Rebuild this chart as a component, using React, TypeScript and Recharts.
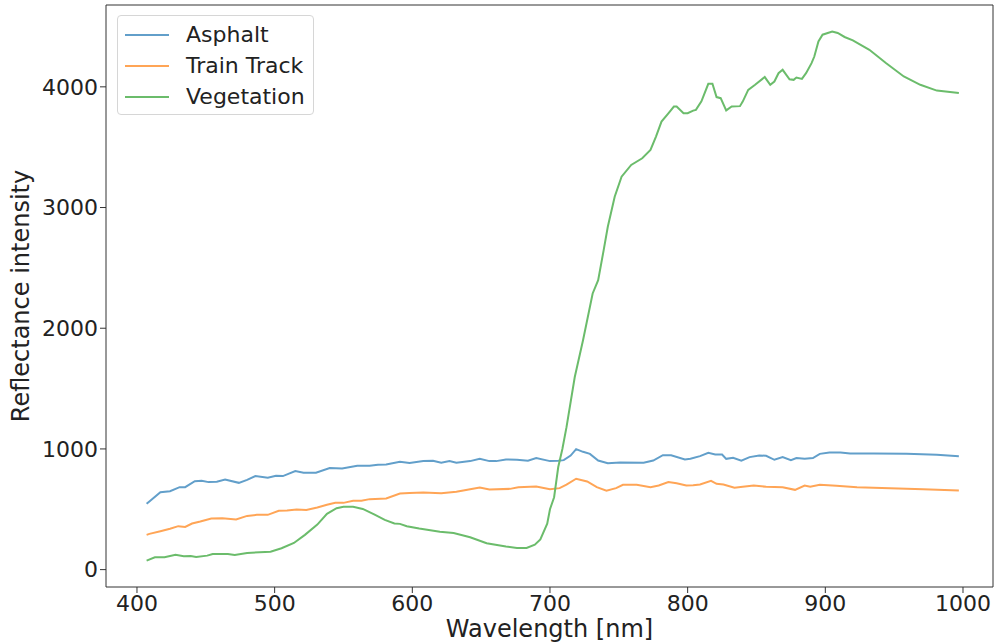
import React from 'react';
import { LineChart, Line, XAxis, YAxis, ReferenceLine } from 'recharts';

// [wavelength nm, reflectance]
const asphalt: [number, number][] = [
  [407, 545], [409, 564], [417, 642], [424, 650], [431, 683], [435, 683], [442, 733], [447, 736],
  [452, 725], [458, 728], [464, 747], [474, 719], [480, 744], [486, 775], [495, 761], [501, 777],
  [506, 775], [515, 816], [521, 802], [530, 802], [540, 841], [549, 838], [560, 860], [569, 860],
  [575, 869], [581, 871], [591, 893], [598, 884], [608, 899], [615, 902], [621, 885], [627, 899],
  [632, 885], [642, 899], [649, 918], [656, 899], [661, 899], [668, 913], [676, 910], [684, 902],
  [690, 924], [700, 899], [706, 902], [710, 907], [715, 945], [719, 998], [724, 976], [729, 959],
  [735, 904], [742, 882], [751, 888], [768, 885], [775, 904], [782, 948], [788, 948], [798, 913],
  [802, 918], [809, 940], [815, 968], [820, 954], [825, 954], [828, 918], [833, 926], [839, 902],
  [845, 932], [852, 946], [857, 943], [863, 910], [869, 932], [875, 907], [879, 924], [885, 918],
  [891, 924], [896, 959], [903, 970], [911, 970], [918, 962], [935, 962], [959, 959], [981, 951],
  [997, 940],
];

const trainTrack: [number, number][] = [
  [407, 288], [409, 296], [417, 318], [424, 338], [430, 360], [435, 354], [440, 382], [446, 398],
  [454, 423], [462, 426], [472, 415], [480, 445], [487, 454], [495, 454], [503, 487], [509, 490],
  [516, 498], [523, 495], [531, 515], [538, 537], [544, 553], [550, 553], [557, 570], [563, 570],
  [569, 584], [581, 589], [591, 631], [598, 634], [608, 639], [621, 633], [632, 645], [642, 666],
  [649, 680], [656, 664], [671, 669], [677, 683], [690, 689], [700, 666], [707, 675], [712, 705],
  [719, 753], [727, 730], [734, 683], [741, 653], [748, 675], [753, 703], [763, 703], [773, 683],
  [779, 697], [786, 725], [792, 716], [799, 697], [804, 700], [809, 705], [817, 736], [821, 711],
  [826, 705], [834, 678], [840, 686], [848, 697], [857, 686], [869, 683], [878, 661], [885, 697],
  [889, 686], [896, 703], [908, 694], [923, 683], [947, 675], [971, 666], [997, 655],
];

const vegetation: [number, number][] = [
  [407, 75], [413, 102], [420, 102], [428, 124], [434, 110], [439, 113], [443, 105], [451, 116],
  [455, 130], [466, 130], [471, 122], [480, 138], [497, 149], [505, 177], [514, 221], [522, 288],
  [531, 373], [538, 462], [545, 509], [550, 520], [557, 520], [564, 503], [573, 454], [580, 412],
  [587, 382], [591, 379], [596, 360], [605, 340], [620, 313], [630, 304], [642, 268], [654, 218],
  [668, 191], [676, 180], [683, 180], [689, 207], [693, 250], [698, 380], [700, 500], [703, 600],
  [706, 850], [709, 1000], [712, 1180], [718, 1596], [724, 1900], [731, 2288], [735, 2398],
  [739, 2647], [742, 2841], [747, 3090], [752, 3256], [759, 3353], [767, 3408], [773, 3477],
  [777, 3588], [781, 3712], [786, 3781], [790, 3837], [792, 3837], [797, 3781], [800, 3781],
  [804, 3803], [806, 3809], [810, 3880], [815, 4025], [818, 4025], [821, 3915], [824, 3906],
  [828, 3805], [832, 3837], [838, 3840], [840, 3878], [844, 3975], [849, 4017], [856, 4081],
  [860, 4017], [863, 4044], [866, 4113], [869, 4141], [874, 4063], [877, 4058], [879, 4077],
  [883, 4066], [886, 4113], [890, 4196], [892, 4251], [895, 4376], [898, 4432], [905, 4459],
  [909, 4446], [914, 4413], [920, 4385], [932, 4307], [944, 4197], [957, 4086], [969, 4017],
  [981, 3969], [997, 3948],
];

const xTicks = [400, 500, 600, 700, 800, 900, 1000];
const yTicks = [0, 1000, 2000, 3000, 4000];
const xDomain: [number, number] = [377.5, 1021.8];
const yDomain: [number, number] = [-144, 4678];

const series = [
  { name: 'Asphalt', color: '#629fca', points: asphalt },
  { name: 'Train Track', color: '#ffa556', points: trainTrack },
  { name: 'Vegetation', color: '#6bbc6b', points: vegetation },
];

const FONT = '"DejaVu Sans", sans-serif';
const AXIS = '#333';
const INK = '#222';

const toRows = (pts: [number, number][]) => pts.map(([nm, v]) => ({ nm, v }));

// matplotlib-style legend box, overlaid in the upper-left of the axes
const MplLegend = () => (
  <div
    style={{
      position: 'absolute',
      left: 117,
      top: 15,
      width: 197,
      height: 100,
      boxSizing: 'border-box',
      border: '1px solid #d6d6d6',
      borderRadius: 4,
      background: 'rgba(255,255,255,0.8)',
      padding: '3px 0 0 7px',
      fontFamily: FONT,
      fontSize: 22,
      color: INK,
    }}
  >
    {series.map((s) => (
      <div key={s.name} style={{ display: 'flex', alignItems: 'center', height: 31 }}>
        <span style={{ width: 44, height: 2, background: s.color, marginRight: 17 }} />
        <span style={{ whiteSpace: 'nowrap' }}>{s.name}</span>
      </div>
    ))}
  </div>
);

const YTitle = (props: any) => {
  const vb = props.viewBox || {};
  const cx = vb.x + 21;
  const cy = vb.y + vb.height / 2;
  return (
    <text
      x={cx}
      y={cy}
      transform={`rotate(-90 ${cx} ${cy})`}
      textAnchor="middle"
      dominantBaseline="central"
      fontFamily={FONT}
      fontSize={24}
      fill={INK}
    >
      Reflectance intensity
    </text>
  );
};

export default function App() {
  return (
    <div style={{ position: 'absolute', left: 0, top: 0, width: 995, height: 644, background: '#fff' }}>
      <LineChart width={995} height={644} margin={{ top: 5, right: 2, left: 0, bottom: 0 }}>
        <XAxis
          type="number"
          dataKey="nm"
          domain={xDomain}
          allowDataOverflow
          ticks={xTicks}
          height={57}
          stroke={AXIS}
          tickSize={6}
          tick={{ fill: INK, fontSize: 22, fontFamily: FONT }}
          label={{
            value: 'Wavelength [nm]',
            position: 'insideBottom',
            offset: 7,
            fill: INK,
            fontSize: 24,
            fontFamily: FONT,
          }}
        />
        <YAxis
          type="number"
          domain={yDomain}
          allowDataOverflow
          ticks={yTicks}
          width={106}
          stroke={AXIS}
          tickSize={6}
          tick={{ fill: INK, fontSize: 22, fontFamily: FONT }}
          label={{ content: <YTitle /> }}
        />
        <ReferenceLine y={yDomain[1]} stroke={AXIS} strokeWidth={1} />
        <ReferenceLine x={xDomain[1]} stroke={AXIS} strokeWidth={1} />
        {series.map((s) => (
          <Line
            key={s.name}
            name={s.name}
            data={toRows(s.points)}
            dataKey="v"
            type="linear"
            stroke={s.color}
            strokeWidth={2}
            dot={false}
            isAnimationActive={false}
          />
        ))}
      </LineChart>
      <MplLegend />
    </div>
  );
}
